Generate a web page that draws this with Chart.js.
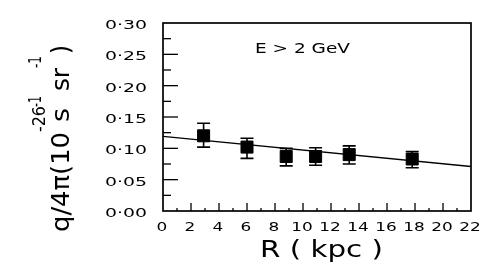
<!DOCTYPE html>
<html><head><meta charset="utf-8">
<script src="https://cdn.jsdelivr.net/npm/chart.js@4.4.1/dist/chart.umd.min.js"></script>
<style>html,body{margin:0;padding:0;background:#fff}#wrap{width:491px;height:273px;position:relative}</style>
</head><body><div id="wrap"><canvas id="c"></canvas></div>
<script>
// Data
const rValues = [2.9, 6.0, 8.8, 10.9, 13.3, 17.8];
const qValues = [0.120, 0.102, 0.087, 0.087, 0.090, 0.083];
const qUpper  = [0.140, 0.116, 0.100, 0.101, 0.104, 0.095];
const qLower  = [0.102, 0.084, 0.072, 0.073, 0.075, 0.069];
const fitR = [0, 22];
const fitQ = [0.119, 0.071];
const xTickValues = [0, 2, 4, 6, 8, 10, 12, 14, 16, 18, 20, 22];
const xTickLabels = ['0','2','4','6','8','10','12','14','16','18','20','22'];
const yTickValues = [0, 0.05, 0.10, 0.15, 0.20, 0.25, 0.30];
const yTickLabels = ['0·00','0·05','0·10','0·15','0·20','0·25','0·30'];
const xTitle = 'R ( kpc )';
const annotation = 'E > 2 GeV';

const FONT = '"DejaVu Sans", sans-serif';

function drawScaled(ctx, text, size, x, y, sx, align) {
  ctx.save();
  ctx.font = size + 'px ' + FONT;
  ctx.translate(x, y);
  ctx.scale(sx, 1);
  ctx.textAlign = align;
  ctx.textBaseline = 'alphabetic';
  ctx.fillStyle = '#000';
  ctx.fillText(text, 0, 0);
  ctx.restore();
}
function drawFit(ctx, text, size, left, y, width) {
  ctx.save();
  ctx.font = size + 'px ' + FONT;
  const w = ctx.measureText(text).width;
  ctx.restore();
  drawScaled(ctx, text, size, left, y, width / w, 'left');
}

const framePlugin = {
  id: 'frame',
  beforeDatasetsDraw(chart) {
    const ctx = chart.ctx, xs = chart.scales.x, ys = chart.scales.y;
    ctx.save();
    ctx.strokeStyle = '#000';
    ctx.lineWidth = 1.6;
    rValues.forEach((r, i) => {
      const px = xs.getPixelForValue(r);
      const hi = ys.getPixelForValue(qUpper[i]);
      const lo = ys.getPixelForValue(qLower[i]);
      ctx.beginPath();
      ctx.moveTo(px, hi); ctx.lineTo(px, lo);
      ctx.moveTo(px - 6.5, hi); ctx.lineTo(px + 6.5, hi);
      ctx.moveTo(px - 6.5, lo); ctx.lineTo(px + 6.5, lo);
      ctx.stroke();
    });
    ctx.restore();
  },
  afterDraw(chart) {
    const ctx = chart.ctx, xs = chart.scales.x, ys = chart.scales.y;
    const a = chart.chartArea;
    ctx.save();
    ctx.strokeStyle = '#000';
    ctx.lineWidth = 1.7;
    ctx.strokeRect(a.left, a.top, a.right - a.left, a.bottom - a.top);
    ctx.lineWidth = 1.3;
    for (let k = 1; k < 12; k++) {
      const py = ys.getPixelForValue(k * 0.025);
      const len = (k % 2 === 0) ? 15 : 8;
      ctx.beginPath(); ctx.moveTo(a.left, py); ctx.lineTo(a.left + len, py); ctx.stroke();
    }
    for (let k = 1; k < 22; k++) {
      const px = xs.getPixelForValue(k);
      const len = (k % 2 === 0) ? 8 : 3;
      ctx.beginPath(); ctx.moveTo(px, a.bottom); ctx.lineTo(px, a.bottom - len); ctx.stroke();
    }
    ctx.restore();
    yTickValues.forEach((v, i) => {
      drawScaled(ctx, yTickLabels[i], 13, 147, ys.getPixelForValue(v) + 6, 1.45, 'right');
    });
    xTickValues.forEach((v, i) => {
      drawScaled(ctx, xTickLabels[i], 13, xs.getPixelForValue(v) - 1, 231, 1.3, 'center');
    });
    drawFit(ctx, xTitle, 23, 260, 257, 123);
    drawFit(ctx, annotation, 14, 255, 53, 95);
    // rotated y title: [text, start along line, length, font size, baseline shift]
    const parts = [
      ['q/4π(10', 0, 100, 25, 0],
      ['-26', 100, 26, 17, -24],
      ['s', 110, 14, 25, 0],
      ['-1', 125, 11, 17, -28],
      ['sr', 141, 23, 25, 0],
      ['-1', 164, 12, 17, -28],
      [')', 178, 9, 25, 0]
    ];
    ctx.save();
    ctx.translate(69, 232);
    ctx.rotate(-Math.PI / 2);
    parts.forEach(p => drawFit(ctx, p[0], p[3], p[1], p[4], p[2]));
    ctx.restore();
  }
};

new Chart(document.getElementById('c'), {
  type: 'scatter',
  data: {
    datasets: [
      {
        type: 'line',
        data: fitR.map((r, i) => ({ x: r, y: fitQ[i] })),
        borderColor: '#000', borderWidth: 1.3, pointRadius: 0, fill: false, tension: 0
      },
      {
        data: rValues.map((r, i) => ({ x: r, y: qValues[i] })),
        pointStyle: 'rect', pointRadius: 8.5,
        backgroundColor: '#000', borderColor: '#000', borderWidth: 1
      }
    ]
  },
  options: {
    responsive: true, maintainAspectRatio: false, animation: false, events: [],
    layout: { padding: { top: 23, right: 20, left: 0, bottom: 0 } },
    plugins: { legend: { display: false }, tooltip: { enabled: false } },
    scales: {
      x: {
        type: 'linear', min: 0, max: 22,
        grid: { display: false }, border: { display: false }, ticks: { display: false },
        afterFit(s) { s.height = 62; }
      },
      y: {
        type: 'linear', min: 0, max: 0.30,
        grid: { display: false }, border: { display: false }, ticks: { display: false },
        afterFit(s) { s.width = 163; }
      }
    }
  },
  plugins: [framePlugin]
});
</script>
</body></html>
